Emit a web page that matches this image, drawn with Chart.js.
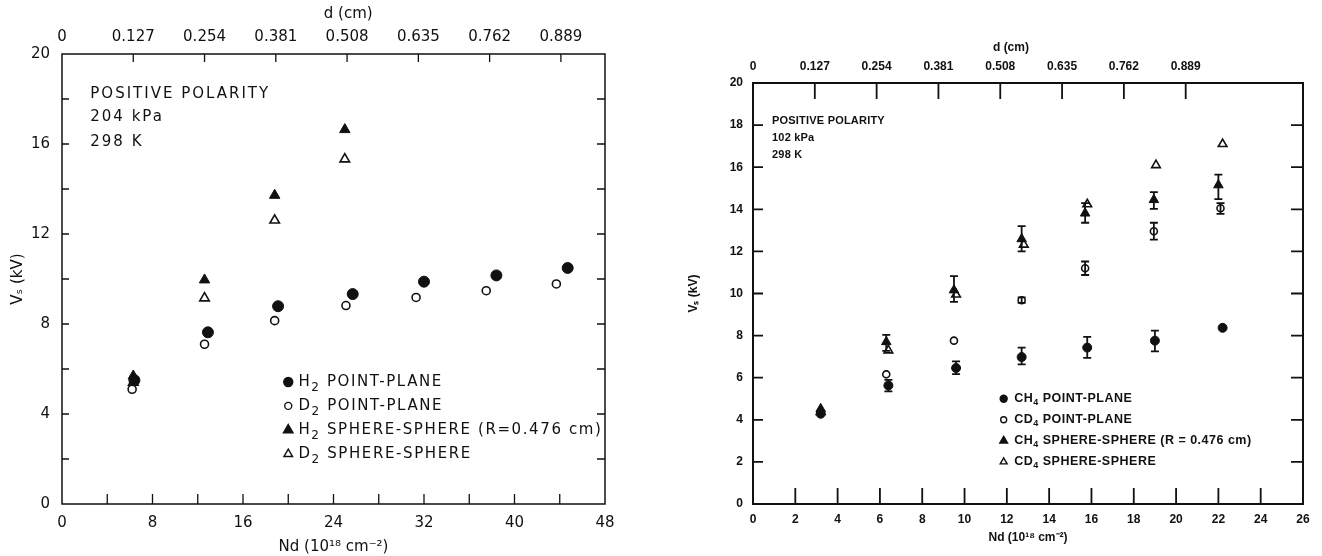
<!DOCTYPE html>
<html><head><meta charset="utf-8">
<script src="https://cdn.jsdelivr.net/npm/chart.js@4.4.1/dist/chart.umd.min.js"></script>
<style>
html,body{margin:0;padding:0;background:#fff;width:1322px;height:556px;overflow:hidden}
#wrapL{position:absolute;left:0;top:0;width:661px;height:556px}
#wrapR{position:absolute;left:661px;top:0;width:661px;height:556px}
</style></head><body>
<div id="wrapL"><canvas id="cL"></canvas></div>
<div id="wrapR"><canvas id="cR"></canvas></div>
<script>
// ---------- Left panel: 204 kPa, 298 K (H2 / D2) ----------
const leftH2PointX  = [6.4, 12.9, 19.1, 25.7, 32.0, 38.4, 44.7];
const leftH2PointY  = [5.5, 7.63, 8.79, 9.33, 9.88, 10.16, 10.49];
const leftD2PointX  = [6.2, 12.6, 18.8, 25.1, 31.3, 37.5, 43.7];
const leftD2PointY  = [5.1, 7.1, 8.15, 8.82, 9.18, 9.48, 9.78];
const leftH2SphereX = [6.3, 12.6, 18.8, 25.0];
const leftH2SphereY = [5.69, 9.96, 13.72, 16.64];
const leftD2SphereX = [6.3, 12.6, 18.8, 25.0];
const leftD2SphereY = [5.4, 9.15, 12.61, 15.33];
const leftDTicks  = [0, 0.127, 0.254, 0.381, 0.508, 0.635, 0.762, 0.889];
const leftDLabels = ['0', '0.127', '0.254', '0.381', '0.508', '0.635', '0.762', '0.889'];
const leftDMax = 0.9676;      // d (cm) at Nd = 48
const leftNote = ['POSITIVE POLARITY', '204 kPa', '298 K'];

// ---------- Right panel: 102 kPa, 298 K (CH4 / CD4) ----------
const rightCH4PointX  = [3.2, 6.4, 9.6, 12.7, 15.8, 19.0, 22.2];
const rightCH4PointY  = [4.29, 5.63, 6.46, 6.98, 7.43, 7.76, 8.37];
const rightCH4PointLo = [null, 5.35, 6.17, 6.63, 6.94, 7.25, null];
const rightCH4PointHi = [null, 5.90, 6.78, 7.43, 7.94, 8.24, null];
const rightCD4PointX  = [6.3, 9.5, 12.7, 15.7, 18.95, 22.1];
const rightCD4PointY  = [6.16, 7.76, 9.68, 11.2, 12.96, 14.05];
const rightCD4PointLo = [null, null, 9.55, 10.88, 12.56, 13.78];
const rightCD4PointHi = [null, null, 9.82, 11.52, 13.36, 14.29];
const rightCH4SphereX  = [3.2, 6.3, 9.5, 12.7, 15.7, 18.95, 22.0];
const rightCH4SphereY  = [4.52, 7.7, 10.16, 12.59, 13.81, 14.45, 15.15];
const rightCH4SphereLo = [null, 7.27, 9.6, 12.0, 13.36, 14.02, 14.48];
const rightCH4SphereHi = [null, 8.03, 10.83, 13.2, 14.29, 14.82, 15.65];
const rightCD4SphereX  = [3.2, 6.4, 9.6, 12.8, 15.8, 19.05, 22.2];
const rightCD4SphereY  = [4.37, 7.3, 9.95, 12.32, 14.24, 16.1, 17.1];
const rightDTicks  = [0, 0.127, 0.254, 0.381, 0.508, 0.635, 0.762, 0.889];
const rightDLabels = ['0', '0.127', '0.254', '0.381', '0.508', '0.635', '0.762', '0.889'];
const rightDMax = 1.13;       // d (cm) at Nd = 26
const rightNote = ['POSITIVE POLARITY', '102 kPa', '298 K'];

const pts = (xs, ys) => xs.map((x, i) => ({x, y: ys[i]}));
const INK = '#111';
Chart.defaults.color = INK;
Chart.defaults.font.family = "'DejaVu Sans', sans-serif";

// inward ticks + frame
const frameTicks = {
  id: 'frameTicks',
  afterDatasetsDraw(chart, args, o) {
    const {ctx, chartArea: a, scales} = chart;
    ctx.save();
    ctx.strokeStyle = INK;
    ctx.lineWidth = o.frameWidth;
    ctx.strokeRect(a.left, a.top, a.right - a.left, a.bottom - a.top);
    ctx.lineWidth = o.tickWidth;
    ctx.beginPath();
    scales.x.ticks.forEach(t => {
      const p = scales.x.getPixelForValue(t.value);
      if (p <= a.left + 1 || p >= a.right - 1) return;
      ctx.moveTo(p, a.bottom); ctx.lineTo(p, a.bottom - o.bottom);
    });
    scales.x2.ticks.forEach(t => {
      const p = scales.x2.getPixelForValue(t.value);
      if (p <= a.left + 1 || p >= a.right - 1) return;
      ctx.moveTo(p, a.top); ctx.lineTo(p, a.top + o.top);
    });
    scales.y.ticks.forEach(t => {
      const p = scales.y.getPixelForValue(t.value);
      if (p <= a.top + 1 || p >= a.bottom - 1) return;
      ctx.moveTo(a.left, p); ctx.lineTo(a.left + o.left, p);
      ctx.moveTo(a.right, p); ctx.lineTo(a.right - o.right, p);
    });
    ctx.stroke();
    ctx.restore();
  }
};

// error bars from dataset errLo / errHi arrays
const errorBars = {
  id: 'errorBars',
  afterDatasetsDraw(chart, args, o) {
    const {ctx, scales} = chart;
    ctx.save();
    ctx.strokeStyle = INK;
    ctx.lineWidth = o.width;
    chart.data.datasets.forEach((ds, i) => {
      if (!ds.errLo) return;
      const meta = chart.getDatasetMeta(i);
      meta.data.forEach((el, j) => {
        if (ds.errLo[j] == null) return;
        const x = el.x;
        const yl = scales.y.getPixelForValue(ds.errLo[j]);
        const yh = scales.y.getPixelForValue(ds.errHi[j]);
        ctx.beginPath();
        ctx.moveTo(x, yl); ctx.lineTo(x, yh);
        ctx.moveTo(x - o.cap, yl); ctx.lineTo(x + o.cap, yl);
        ctx.moveTo(x - o.cap, yh); ctx.lineTo(x + o.cap, yh);
        ctx.stroke();
      });
    });
    ctx.restore();
  }
};

function drawMarker(ctx, style, filled, x, y, r) {
  ctx.beginPath();
  if (style === 'circle') {
    ctx.arc(x, y, r, 0, Math.PI * 2);
  } else {
    for (let k = 0; k < 3; k++) {
      const ang = k * 2 * Math.PI / 3;
      const px = x + Math.sin(ang) * r, py = y - Math.cos(ang) * r;
      if (k === 0) ctx.moveTo(px, py); else ctx.lineTo(px, py);
    }
    ctx.closePath();
  }
  ctx.fillStyle = filled ? INK : '#fff';
  ctx.fill();
  ctx.lineWidth = 1.4;
  ctx.strokeStyle = INK;
  ctx.stroke();
}

// draw text where unicode subscript digits are drawn as small lowered digits
const SUBS = '₀₁₂₃₄₅₆₇₈₉';
function drawRich(ctx, text, x, y, font, subFont, drop) {
  let cx = x, buf = '', sub = false;
  const flush = () => {
    if (!buf) return;
    ctx.font = sub ? subFont : font;
    ctx.fillText(buf, cx, sub ? y + drop : y);
    cx += ctx.measureText(buf).width;
    buf = '';
  };
  for (const ch of text) {
    const k = SUBS.indexOf(ch);
    const isSub = k >= 0;
    if (isSub !== sub) { flush(); sub = isSub; }
    buf += isSub ? String(k) : ch;
  }
  flush();
}

// in-plot legend, notes and the top-axis title
const notes = {
  id: 'notes',
  afterDatasetsDraw(chart, args, o) {
    const {ctx, scales} = chart;
    ctx.save();
    ctx.fillStyle = INK;
    ctx.textBaseline = 'middle';
    ctx.textAlign = 'center';
    ctx.font = o.dFont;
    ctx.fillText(o.dTitle, scales.x2.getPixelForValue(o.dTitleAt), o.dTitleY);
    ctx.textAlign = 'left';
    ctx.letterSpacing = o.noteSpacing;
    o.lines.forEach((t, i) => {
      ctx.font = o.noteFont;
      ctx.fillText(t, scales.x.getPixelForValue(o.noteX), scales.y.getPixelForValue(o.noteY[i]));
    });
    ctx.letterSpacing = o.legSpacing;
    chart.data.datasets.forEach((ds, i) => {
      const y = scales.y.getPixelForValue(o.legY[i]);
      const mx = scales.x.getPixelForValue(o.legMarkX);
      drawMarker(ctx, ds.pointStyle, ds.backgroundColor === INK, mx, y, o.legR[i]);
      ctx.fillStyle = INK;
      drawRich(ctx, ds.label, scales.x.getPixelForValue(o.legTextX), y, o.legFont, o.subFont, o.drop);
    });
    ctx.restore();
  }
};

function makeChart(id, cfg) {
  const tickFont = cfg.tickFont;
  return new Chart(document.getElementById(id), {
    type: 'scatter',
    data: {datasets: cfg.datasets},
    options: {
      responsive: true, maintainAspectRatio: false, animation: false,
      layout: {padding: {right: cfg.padRight, top: 0, bottom: 0, left: 0}},
      plugins: {
        legend: {display: false}, tooltip: {enabled: false},
        frameTicks: cfg.frame, errorBars: cfg.err, notes: cfg.notes
      },
      scales: {
        x: {
          type: 'linear', position: 'bottom', min: 0, max: cfg.xMax,
          border: {display: false}, grid: {display: false, drawTicks: false},
          ticks: {stepSize: cfg.xStep, autoSkip: false, maxRotation: 0, padding: cfg.xPad, font: tickFont, color: INK,
                  callback: v => (v % cfg.xLabelEvery === 0 ? String(v) : '')},
          title: {display: true, text: 'Nd (10¹⁸ cm⁻²)', font: cfg.titleFont, color: INK, padding: {top: 0, bottom: cfg.xTitlePad}},
          afterFit(s) { s.height = cfg.bottomH; }
        },
        x2: {
          type: 'linear', position: 'top', min: 0, max: cfg.dMax,
          border: {display: false}, grid: {display: false, drawTicks: false},
          afterBuildTicks(s) { s.ticks = cfg.dTicks.map(v => ({value: v})); },
          ticks: {autoSkip: false, maxRotation: 0, padding: cfg.topPad, font: tickFont, color: INK,
                  callback: (v, i) => cfg.dLabels[i]},
          title: {display: false, text: 'd (cm)'},
          afterFit(s) { s.height = cfg.topH; }
        },
        y: {
          type: 'linear', position: 'left', min: 0, max: 20,
          border: {display: false}, grid: {display: false, drawTicks: false},
          ticks: {stepSize: 2, autoSkip: false, padding: cfg.yPad, font: tickFont, color: INK,
                  callback: v => (v % cfg.yLabelEvery === 0 ? String(v) : '')},
          title: {display: true, text: 'Vₛ (kV)', font: cfg.titleFont, color: INK, padding: {top: cfg.yTitlePad, bottom: 0}},
          afterFit(s) { s.width = cfg.leftW; }
        }
      }
    },
    plugins: [errorBars, frameTicks, notes]
  });
}

// Left chart
makeChart('cL', {
  xMax: 48, xStep: 4, xLabelEvery: 8, yLabelEvery: 4,
  dMax: leftDMax, dTicks: leftDTicks, dLabels: leftDLabels,
  tickFont: {size: 15}, titleFont: {size: 15},
  padRight: 56, leftW: 62, bottomH: 52, topH: 54,
  xPad: 10, xTitlePad: 0, topPad: 8, yPad: 12, yTitlePad: 9,
  frame: {frameWidth: 1.5, tickWidth: 1.3, bottom: 10, top: 8, left: 7, right: 8},
  err: {width: 1.3, cap: 4},
  notes: {
    dTitle: 'd (cm)', dTitleAt: 0.51, dTitleY: 14, dFont: '15px "DejaVu Sans"',
    lines: leftNote, noteX: 2.5, noteY: [18.2, 17.2, 16.1], noteFont: '15px "DejaVu Sans"', noteSpacing: '2px',
    legMarkX: 20.0, legTextX: 20.9, legY: [5.42, 4.36, 3.29, 2.22], legR: [4.5, 3.5, 5.5, 5],
    legFont: '15px "DejaVu Sans"', subFont: '12px "DejaVu Sans"', drop: 6, legSpacing: '1.6px'
  },
  datasets: [
    {label: 'H₂ POINT-PLANE', data: pts(leftH2PointX, leftH2PointY), pointStyle: 'circle', pointRadius: 5.5,
     backgroundColor: INK, borderColor: INK, borderWidth: 1},
    {label: 'D₂ POINT-PLANE', data: pts(leftD2PointX, leftD2PointY), pointStyle: 'circle', pointRadius: 4,
     backgroundColor: '#fff', borderColor: INK, borderWidth: 1.6},
    {label: 'H₂ SPHERE-SPHERE (R=0.476 cm)', data: pts(leftH2SphereX, leftH2SphereY), pointStyle: 'triangle', pointRadius: 6,
     backgroundColor: INK, borderColor: INK, borderWidth: 1},
    {label: 'D₂ SPHERE-SPHERE', data: pts(leftD2SphereX, leftD2SphereY), pointStyle: 'triangle', pointRadius: 5.5,
     backgroundColor: '#fff', borderColor: INK, borderWidth: 1.6}
  ]
});

// Right chart
const boldSmall = {size: 12, weight: 'bold', family: "'Liberation Sans', Arial, sans-serif"};
makeChart('cR', {
  xMax: 26, xStep: 2, xLabelEvery: 2, yLabelEvery: 2,
  dMax: rightDMax, dTicks: rightDTicks, dLabels: rightDLabels,
  tickFont: boldSmall, titleFont: boldSmall,
  padRight: 19, leftW: 92, bottomH: 52, topH: 83,
  xPad: 8, xTitlePad: 11, topPad: 9, yPad: 10, yTitlePad: 25,
  frame: {frameWidth: 2, tickWidth: 1.8, bottom: 16, top: 16, left: 10, right: 12},
  err: {width: 1.8, cap: 4},
  notes: {
    dTitle: 'd (cm)', dTitleAt: 0.53, dTitleY: 48, dFont: 'bold 12px "Liberation Sans"',
    lines: rightNote, noteX: 0.9, noteY: [18.2, 17.4, 16.6], noteFont: 'bold 11px "Liberation Sans"', noteSpacing: '0.2px',
    legMarkX: 11.85, legTextX: 12.35, legY: [5, 4, 3, 2], legR: [3.5, 3, 4.5, 4],
    legFont: 'bold 12.5px "Liberation Sans"', subFont: 'bold 9px "Liberation Sans"', drop: 4, legSpacing: '0.5px'
  },
  datasets: [
    {label: 'CH₄ POINT-PLANE', data: pts(rightCH4PointX, rightCH4PointY), errLo: rightCH4PointLo, errHi: rightCH4PointHi,
     pointStyle: 'circle', pointRadius: 4.5, backgroundColor: INK, borderColor: INK, borderWidth: 1},
    {label: 'CD₄ POINT-PLANE', data: pts(rightCD4PointX, rightCD4PointY), errLo: rightCD4PointLo, errHi: rightCD4PointHi,
     pointStyle: 'circle', pointRadius: 3.5, backgroundColor: '#fff', borderColor: INK, borderWidth: 1.6},
    {label: 'CH₄ SPHERE-SPHERE (R = 0.476 cm)', data: pts(rightCH4SphereX, rightCH4SphereY), errLo: rightCH4SphereLo, errHi: rightCH4SphereHi,
     pointStyle: 'triangle', pointRadius: 5.5, backgroundColor: INK, borderColor: INK, borderWidth: 1},
    {label: 'CD₄ SPHERE-SPHERE', data: pts(rightCD4SphereX, rightCD4SphereY),
     pointStyle: 'triangle', pointRadius: 5, backgroundColor: '#fff', borderColor: INK, borderWidth: 1.6}
  ]
});
</script>
</body></html>
